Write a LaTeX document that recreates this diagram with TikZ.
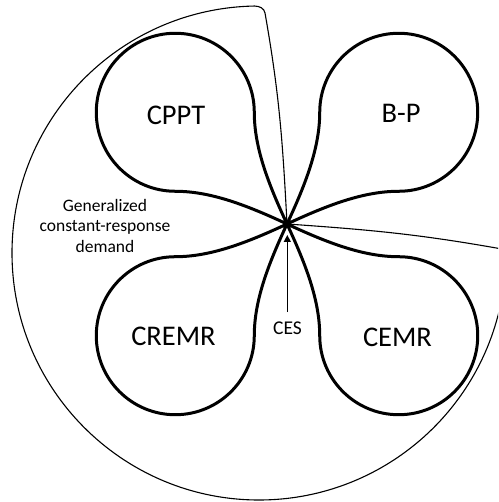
\documentclass[tikz,border=0pt]{standalone}
\usepackage{fontspec}
\setmainfont{Carlito}
\usetikzlibrary{arrows.meta,calc}
\begin{document}
\begin{tikzpicture}[x=1pt,y=1pt,
  leaf/.style={line width=3pt,line join=round},
  outer/.style={line width=1.1pt,line join=round},
  biglabel/.style={inner sep=0pt,font=\fontsize{28.5}{32}\selectfont},
  smalllabel/.style={inner sep=0pt,font=\fontsize{19.5}{22}\selectfont},
  sidelabel/.style={inner sep=0pt,align=center,font=\fontsize{17.5}{20.5}\selectfont},
  arrowline/.style={line width=1.3pt,-{Triangle[length=7pt,width=7pt]}}]
\useasboundingbox (0,0) rectangle (498,502);
\clip (0,0) rectangle (498,502);
\coordinate (C) at (287,278);
\coordinate (O) at (259,249);
% outer region with wedge cut out
\draw[outer] (C) to[out=93,in=-80] (265,489)
  to[out=100,in=-2] ($(O)+(91:247)$)
  arc[start angle=91,end angle=358,radius=247]
  to[out=88,in=-10] (498,253.7)
  to[out=170,in=-4] (C);
% four leaves
\foreach \ang in {45,135,225,315}{
  \draw[leaf,shift={(C)},rotate=\ang] (0,0)
    .. controls (20:45) and (77.4,31.1) .. (102.14,55.86)
    arc[start angle=135,end angle=-135,radius=79]
    .. controls (77.4,-31.1) and (-20:45) .. cycle;
}
% labels
\node[biglabel] (cppt) at (176,386.3) {CPPT};
\node[biglabel] (bp) at (401,388.5) {B-P};
\node[biglabel] (cremr) at (173.5,165.3) {CREMR};
\node[biglabel] (cemr) at (397.5,164.5) {CEMR};
\node[smalllabel] (ces) at (287.5,173.3) {CES};
\node[sidelabel] (gcr) at (105,276.2) {Generalized\\constant-response\\demand};
% arrow to the common point
\coordinate (tip) at (287.3,267);
\draw[arrowline] ([yshift=10pt]ces.north -| tip) -- (tip);
\end{tikzpicture}
\end{document}
